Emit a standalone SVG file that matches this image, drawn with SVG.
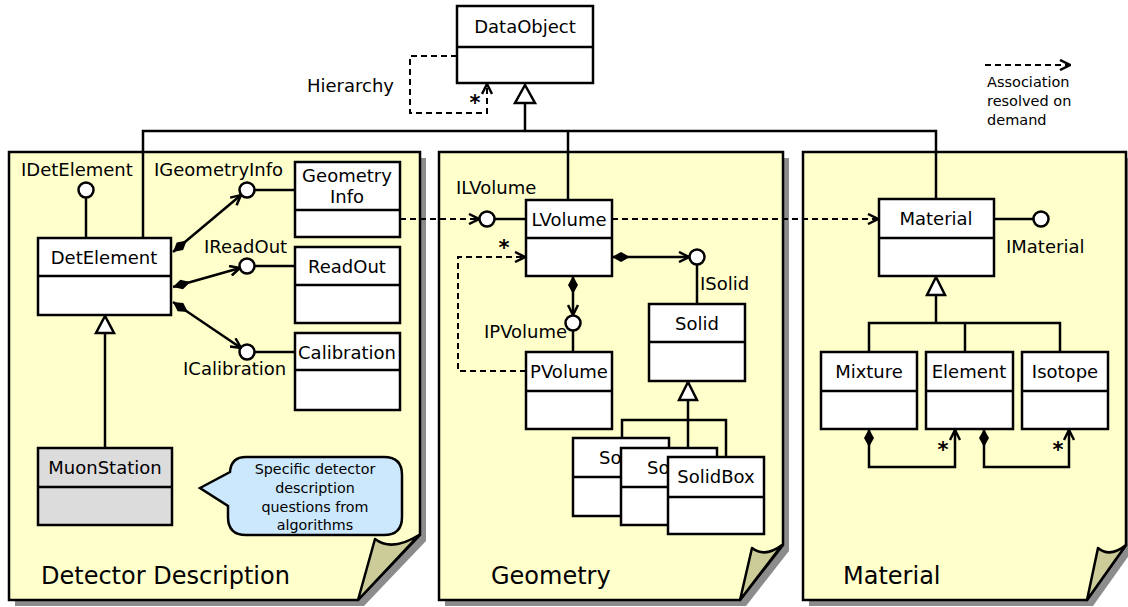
<svg xmlns="http://www.w3.org/2000/svg" width="1128" height="607" viewBox="0 0 1128 607">
<style>
text{font-family:"DejaVu Sans","Noto Sans",sans-serif;font-size:18px;fill:#000}
.c{text-anchor:middle}
.box{fill:#fff;stroke:#000;stroke-width:2.5}
.gray{fill:#dcdcdc}
.ln{fill:none;stroke:#000;stroke-width:2.5}
.dash{fill:none;stroke:#000;stroke-width:2;stroke-dasharray:6,4}
.lol{fill:#fff;stroke:#000;stroke-width:2.5}
.tri{fill:#fff;stroke:#000;stroke-width:2.5;stroke-linejoin:miter}
.panel{fill:#ffffcc;stroke:#000;stroke-width:2.5;stroke-linejoin:miter}
.shadow{fill:#8c8c8c}
.flap{fill:#cccc99;stroke:#000;stroke-width:2.5;stroke-linejoin:round}
.title{font-size:24px}
.small{font-size:14.3px}
.leg{font-size:14.5px}
.star{font-size:21px;font-weight:bold}
</style>
<defs>
<marker id="open" viewBox="0 0 12 12" refX="11" refY="6" markerWidth="12" markerHeight="12" markerUnits="userSpaceOnUse" orient="auto">
<path d="M1,1 L11,6 L1,11" fill="none" stroke="#000" stroke-width="2.5"/>
</marker>
<marker id="diamond" viewBox="0 0 18 11" refX="0" refY="5.5" markerWidth="18" markerHeight="11" markerUnits="userSpaceOnUse" orient="auto">
<path d="M0,5.5 L9,0.5 L18,5.5 L9,10.5 Z" fill="#000"/>
</marker>
</defs>

<!-- panels -->
<g id="panel-detector">
<path class="shadow" d="M15,158 H426 V541 L364,606 H15 Z"/>
<path class="panel" d="M9,152 H420 V535 L358,600 H9 Z"/>
<path class="flap" d="M358,600 L375,539 Q392,552 419,535 Z"/>
<text class="title" x="41" y="584">Detector Description</text>
</g>
<g id="panel-geometry">
<path class="shadow" d="M445,158 H789 V551 L746,606 H445 Z"/>
<path class="panel" d="M439,152 H783 V545 L740,600 H439 Z"/>
<path class="flap" d="M740,600 L752,548 Q765,558 782,545 Z"/>
<text class="title" x="491" y="584">Geometry</text>
</g>
<g id="panel-material">
<path class="shadow" d="M809,158 H1132 V551 L1093,606 H809 Z"/>
<path class="panel" d="M803,152 H1126 V545 L1087,600 H803 Z"/>
<path class="flap" d="M1087,600 L1098,548 Q1110,558 1126,545 Z"/>
<text class="title" x="843" y="584">Material</text>
</g>

<!-- connectors -->
<g id="connectors">
<path class="ln" d="M143,238 V131 H936 V199"/>
<path class="ln" d="M568,131 V200"/>
<path class="ln" d="M525,103 V131"/>
<polygon class="tri" points="525,85 515,103 535,103"/>
<path class="dash" d="M457,56 H410 V113 H487 V84" marker-end="url(#open)"/>
<text x="475" y="110" class="c star">*</text>
<text x="307" y="92">Hierarchy</text>

<!-- detector -->
<path class="ln" d="M86,197.5 V238"/>
<path class="ln" d="M254.5,190 H295"/>
<path class="ln" d="M254.5,266 H295"/>
<path class="ln" d="M254.5,352 H295"/>
<path class="ln" d="M173,252 L241,195" marker-start="url(#diamond)" marker-end="url(#open)"/>
<path class="ln" d="M173,287 L240,268" marker-start="url(#diamond)" marker-end="url(#open)"/>
<path class="ln" d="M173,302 L241,348" marker-start="url(#diamond)" marker-end="url(#open)"/>
<path class="ln" d="M105,333 V448"/>
<polygon class="tri" points="105,316 96,333 114,333"/>
<circle class="lol" cx="86" cy="190" r="7.5"/>
<circle class="lol" cx="247" cy="190" r="7.5"/>
<circle class="lol" cx="247" cy="266" r="7.5"/>
<circle class="lol" cx="247" cy="352" r="7.5"/>
<text x="21" y="176">IDetElement</text>
<text x="154" y="176">IGeometryInfo</text>
<text x="204" y="253">IReadOut</text>
<text x="183" y="375">ICalibration</text>

<!-- geometry -->
<path class="dash" d="M400,219 H479" marker-end="url(#open)"/>
<path class="dash" d="M612,219 H878" marker-end="url(#open)"/>
<path class="dash" d="M526,371 H458 V257 H525" marker-end="url(#open)"/>
<text x="504" y="255" class="c star">*</text>
<path class="ln" d="M494.5,219 H526"/>
<path class="ln" d="M612,257 H689" marker-start="url(#diamond)" marker-end="url(#open)"/>
<path class="ln" d="M573,276 V315" marker-start="url(#diamond)" marker-end="url(#open)"/>
<path class="ln" d="M697,264.5 V304"/>
<path class="ln" d="M573,330.5 V352"/>
<path class="ln" d="M688,400 V448"/>
<path class="ln" d="M622,438 V420 H726 V457"/>
<polygon class="tri" points="688,382 679,400 697,400"/>
<circle class="lol" cx="487" cy="219" r="7.5"/>
<circle class="lol" cx="697" cy="257" r="7.5"/>
<circle class="lol" cx="573" cy="323" r="7.5"/>
<text x="456" y="194">ILVolume</text>
<text x="700" y="290">ISolid</text>
<text x="484" y="338">IPVolume</text>

<!-- material -->
<path class="ln" d="M994,219 H1033.5"/>
<circle class="lol" cx="1041" cy="219" r="7.5"/>
<text x="1006" y="253">IMaterial</text>
<path class="ln" d="M936,295 V323"/>
<polygon class="tri" points="936,277 927,295 945,295"/>
<path class="ln" d="M869,352 V323 H1060 V352"/>
<path class="ln" d="M965,323 V352"/>
<path class="ln" d="M869,429 V467 H955 V430" marker-start="url(#diamond)" marker-end="url(#open)"/>
<path class="ln" d="M984,429 V467 H1069 V430" marker-start="url(#diamond)" marker-end="url(#open)"/>
<text x="943" y="457" class="c star">*</text>
<text x="1058" y="457" class="c star">*</text>

<!-- legend -->
<path class="dash" d="M985,65 H1070" marker-end="url(#open)"/>
</g>

<g id="legend-text">
<text class="leg" x="987" y="87">Association</text>
<text class="leg" x="987" y="106">resolved on</text>
<text class="leg" x="987" y="125">demand</text>
</g>

<!-- nodes -->
<g id="DataObject">
<rect class="box" x="457" y="6" width="136" height="77"/>
<line class="ln" x1="457" y1="47" x2="593" y2="47"/>
<text class="c" x="525" y="33">DataObject</text>
</g>
<g id="DetElement">
<rect class="box" x="38" y="238" width="133" height="77"/>
<line class="ln" x1="38" y1="276" x2="171" y2="276"/>
<text class="c" x="104" y="264">DetElement</text>
</g>
<g id="GeometryInfo">
<rect class="box" x="295" y="162" width="105" height="75"/>
<line class="ln" x1="295" y1="210" x2="400" y2="210"/>
<text class="c" x="347" y="182">Geometry</text>
<text class="c" x="347" y="203">Info</text>
</g>
<g id="ReadOut">
<rect class="box" x="295" y="247" width="105" height="76"/>
<line class="ln" x1="295" y1="285" x2="400" y2="285"/>
<text class="c" x="347" y="273">ReadOut</text>
</g>
<g id="Calibration">
<rect class="box" x="295" y="333" width="105" height="77"/>
<line class="ln" x1="295" y1="370" x2="400" y2="370"/>
<text class="c" x="347" y="359">Calibration</text>
</g>
<g id="MuonStation">
<rect class="box gray" x="38" y="448" width="134" height="77"/>
<line class="ln" x1="38" y1="487" x2="172" y2="487"/>
<text class="c" x="105" y="474">MuonStation</text>
</g>
<g id="note">
<path d="M246,457 H384 Q402,457 402,475 V517 Q402,535 384,535 H246 Q228,535 228,517 V506 L200,488 L230,472 Q231,457 246,457 Z" fill="#cce8fc" stroke="#000" stroke-width="2.5"/>
<text class="c small" x="315" y="474">Specific detector</text>
<text class="c small" x="315" y="493">description</text>
<text class="c small" x="315" y="512">questions from</text>
<text class="c small" x="315" y="530">algorithms</text>
</g>
<g id="LVolume">
<rect class="box" x="526" y="200" width="86" height="76"/>
<line class="ln" x1="526" y1="238" x2="612" y2="238"/>
<text class="c" x="569" y="226">LVolume</text>
</g>
<g id="PVolume">
<rect class="box" x="526" y="352" width="86" height="77"/>
<line class="ln" x1="526" y1="391" x2="612" y2="391"/>
<text class="c" x="569" y="378">PVolume</text>
</g>
<g id="Solid">
<rect class="box" x="649" y="304" width="96" height="77"/>
<line class="ln" x1="649" y1="342" x2="745" y2="342"/>
<text class="c" x="697" y="330">Solid</text>
</g>
<g id="Solid1">
<rect class="box" x="573" y="438" width="96" height="78"/>
<line class="ln" x1="573" y1="477" x2="669" y2="477"/>
<text x="599" y="464">So</text>
</g>
<g id="Solid2">
<rect class="box" x="621" y="448" width="96" height="77"/>
<line class="ln" x1="621" y1="487" x2="717" y2="487"/>
<text x="647" y="474">So</text>
</g>
<g id="SolidBox">
<rect class="box" x="668" y="457" width="96" height="77"/>
<line class="ln" x1="668" y1="497" x2="764" y2="497"/>
<text class="c" x="716" y="483">SolidBox</text>
</g>
<g id="Material">
<rect class="box" x="879" y="199" width="115" height="77"/>
<line class="ln" x1="879" y1="238" x2="994" y2="238"/>
<text class="c" x="936" y="225">Material</text>
</g>
<g id="Mixture">
<rect class="box" x="821" y="352" width="96" height="77"/>
<line class="ln" x1="821" y1="391" x2="917" y2="391"/>
<text class="c" x="869" y="378">Mixture</text>
</g>
<g id="Element">
<rect class="box" x="926" y="352" width="87" height="77"/>
<line class="ln" x1="926" y1="391" x2="1013" y2="391"/>
<text class="c" x="969" y="378">Element</text>
</g>
<g id="Isotope">
<rect class="box" x="1022" y="352" width="86" height="77"/>
<line class="ln" x1="1022" y1="391" x2="1108" y2="391"/>
<text class="c" x="1065" y="378">Isotope</text>
</g>
</svg>
